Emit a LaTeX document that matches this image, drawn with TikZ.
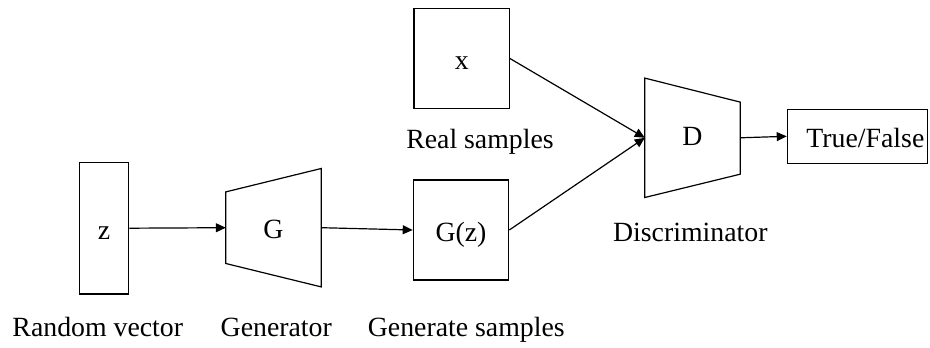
\documentclass[tikz,border=0pt]{standalone}
\usepackage{fontspec}
\setmainfont{Liberation Serif}
\usetikzlibrary{arrows.meta}
\begin{document}
\begin{tikzpicture}[x=1pt,y=-1pt,
  txt/.style={font=\fontsize{27.8}{32}\selectfont},
  box/.style={txt, draw, line width=1.2pt, inner sep=0pt, text height=22pt, text depth=0pt},
  ghost/.style={txt, inner sep=0pt, text height=22pt, text depth=0pt},
  shapeline/.style={line width=1.2pt, line join=miter},
  lbl/.style={txt, anchor=base, inner sep=0pt},
  conn/.style={line width=1.2pt, -{Triangle[length=10pt,width=9pt]}}
]
\useasboundingbox (0,0) rectangle (930,348);

% boxes
\node[box, minimum width=49.4pt, minimum height=131.7pt] (z) at (104,228.2) {z};
\node[box, minimum width=95.4pt, minimum height=100pt] (Gz) at (461,230) {G(z)};
\node[box, minimum width=95.3pt, minimum height=100.4pt] (x) at (461.7,58.5) {x};
\node[box, minimum width=140.2pt, minimum height=54pt] (TF) at (857.4,136.3) {\hspace*{16pt}True/False};

% generator trapezoid
\node[ghost, minimum width=95pt, minimum height=118pt] (G) at (273.5,227.7) {G};
\draw[shapeline] (G.north east) -- (G.south east) -- ([yshift=23.4pt]G.south west)
  -- ([yshift=-23.4pt]G.north west) -- cycle;

% discriminator trapezoid
\node[ghost, minimum width=95pt, minimum height=119pt, text height=14.5pt] (D) at (692.5,137.8) {D};
\draw[shapeline] (D.north west) -- ([yshift=-24pt]D.north east) -- ([yshift=23.3pt]D.south east)
  -- (D.south west) -- cycle;

% connectors
\draw[conn] (z.east) -- (G.west);
\draw[conn] (G.east) -- (Gz.west);
\draw[conn] (x.east) -- (D.west);
\draw[conn] (Gz.east) -- (D.west);
\draw[conn] (D.east) -- (TF.west);

% labels
\node[lbl] (lz) at (97.8,336.7) {Random vector};
\node[lbl] (lg) at (276.3,336.7) {Generator};
\node[lbl] (lgz) at (466.3,336.7) {Generate samples};
\node[lbl] (lx) at (480,148.3) {Real samples};
\node[lbl] (ld) at (690.3,241.7) {Discriminator};
\end{tikzpicture}
\end{document}
